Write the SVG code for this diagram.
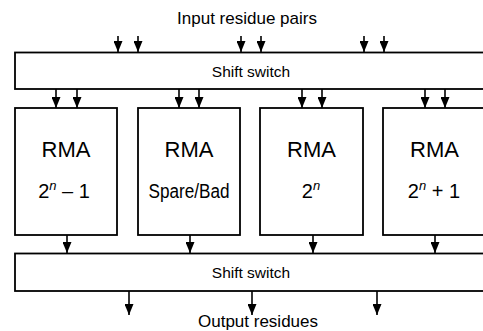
<svg xmlns="http://www.w3.org/2000/svg" width="483" height="331" viewBox="0 0 483 331">
<style>
.box{fill:#fff;stroke:#000;stroke-width:1.8}
.ln{stroke:#000;stroke-width:1.6;fill:none}
.t{font-family:"Liberation Sans",Arial,sans-serif;fill:#000;text-anchor:middle}
.big{font-size:22px}
.mid{font-size:20px}
.lab{font-size:17px}
.sw{font-size:15.5px}
</style>
<defs>
<marker id="ah" viewBox="0 0 11 9" refX="11" refY="4.5" markerWidth="11" markerHeight="9" markerUnits="userSpaceOnUse" orient="auto">
<path d="M0,0 L11,4.5 L0,9 Z" fill="#000"/>
</marker>
</defs>
<rect x="0" y="0" width="483" height="331" fill="#fff"/>
<text class="t lab" x="247" y="24">Input residue pairs</text>
<g id="switch_top">
<rect class="box" x="15" y="52.5" width="475" height="36.5"/>
<text class="t sw" x="251" y="77">Shift switch</text>
</g>
<g id="rma1">
<rect class="box" x="15" y="108" width="102" height="127"/>
<text class="t big" x="66" y="157">RMA</text>
<text class="t mid" x="64" y="198">2<tspan dy="-8" font-size="13" font-style="italic">n</tspan><tspan dy="8"> – 1</tspan></text>
</g>
<g id="rma2">
<rect class="box" x="138" y="108" width="102" height="127"/>
<text class="t big" x="189" y="157">RMA</text>
<text class="t mid" x="189" y="198" textLength="81" lengthAdjust="spacingAndGlyphs">Spare/Bad</text>
</g>
<g id="rma3">
<rect class="box" x="260" y="108" width="103" height="127"/>
<text class="t big" x="311.5" y="157">RMA</text>
<text class="t mid" x="311" y="198">2<tspan dy="-8" font-size="13" font-style="italic">n</tspan></text>
</g>
<g id="rma4">
<rect class="box" x="383" y="108" width="103" height="127"/>
<text class="t big" x="434.5" y="157">RMA</text>
<text class="t mid" x="434" y="198">2<tspan dy="-8" font-size="13" font-style="italic">n</tspan><tspan dy="8"> + 1</tspan></text>
</g>
<g id="switch_bottom">
<rect class="box" x="15" y="253.5" width="475" height="37.5"/>
<text class="t sw" x="251" y="278">Shift switch</text>
</g>
<text class="t lab" x="258" y="327">Output residues</text>
<g id="connectors" class="ln" marker-end="url(#ah)">
<line x1="118" y1="36" x2="118" y2="52"/>
<line x1="138" y1="36" x2="138" y2="52"/>
<line x1="241" y1="36" x2="241" y2="52"/>
<line x1="261" y1="36" x2="261" y2="52"/>
<line x1="364" y1="36" x2="364" y2="52"/>
<line x1="384" y1="36" x2="384" y2="52"/>
<line x1="56" y1="89" x2="56" y2="108"/>
<line x1="77" y1="89" x2="77" y2="108"/>
<line x1="179" y1="89" x2="179" y2="108"/>
<line x1="199" y1="89" x2="199" y2="108"/>
<line x1="302" y1="89" x2="302" y2="108"/>
<line x1="322" y1="89" x2="322" y2="108"/>
<line x1="425" y1="89" x2="425" y2="108"/>
<line x1="445" y1="89" x2="445" y2="108"/>
<line x1="67" y1="235" x2="67" y2="253"/>
<line x1="190" y1="235" x2="190" y2="253"/>
<line x1="313" y1="235" x2="313" y2="253"/>
<line x1="435" y1="235" x2="435" y2="253"/>
<line x1="129" y1="291" x2="129" y2="315"/>
<line x1="252" y1="291" x2="252" y2="315"/>
<line x1="377" y1="291" x2="377" y2="315"/>
</g>
</svg>
